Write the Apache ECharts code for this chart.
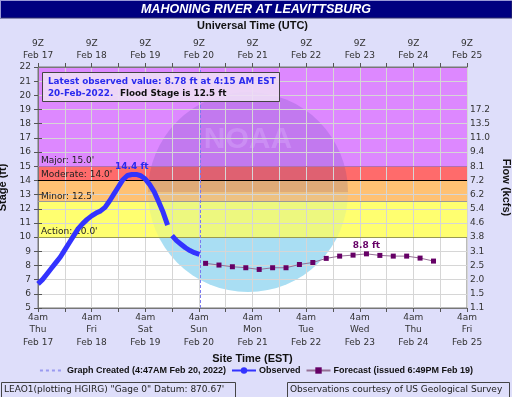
<!DOCTYPE html>
<html>
<head>
<meta charset="utf-8">
<script src="https://cdn.jsdelivr.net/npm/echarts@6/dist/echarts.min.js"></script>
<style>
  html, body { margin: 0; padding: 0; background: #dedefa; }
  #chart { width: 512px; height: 397px; }
</style>
</head>
<body>
<div id="chart"></div>
<script>
// hours counted from Thu Feb 17 2022, 4am EST (= 9Z)
var dayNames = ['Thu', 'Fri', 'Sat', 'Sun', 'Mon', 'Tue', 'Wed', 'Thu', 'Fri'];
var dateLabels = ['Feb 17', 'Feb 18', 'Feb 19', 'Feb 20', 'Feb 21', 'Feb 22', 'Feb 23', 'Feb 24', 'Feb 25'];

var flowStages = [5, 6, 7, 8, 9, 10, 11, 12, 13, 14, 15, 16, 17, 18, 19];
var flowLabels = ['1.1', '1.5', '2.0', '2.5', '3.1', '3.8', '4.6', '5.4', '6.2', '7.2', '8.1', '9.4', '11.0', '13.5', '17.2'];

var floodNames = ['Action', 'Minor', 'Moderate', 'Major'];
var floodStages = [10, 12.5, 14, 15];

var obsHours = [0, 2, 4, 6, 8, 10, 12, 14, 16, 18, 20, 22, 24, 26, 28, 30, 32, 34, 36, 38, 40, 42, 44, 46, 48, 50, 52, 54, 56, 58, 59, 60, 62, 64, 66, 68, 70, 72.25];
var obsStage = [6.7, 7.0, 7.4, 7.8, 8.2, 8.6, 9.1, 9.6, 10.1, 10.6, 10.95, 11.25, 11.5, 11.7, 11.85, 12.1, 12.55, 13.05, 13.55, 14.05, 14.35, 14.42, 14.42, 14.33, 14.1, 13.7, 13.2, 12.5, 11.75, 10.85, null, 10.1, 9.75, 9.5, 9.25, 9.05, 8.9, 8.78];

var fcstHours = [75, 81, 87, 93, 99, 105, 111, 117, 123, 129, 135, 141, 147, 153, 159, 165, 171, 177];
var fcstStage = [8.15, 8.03, 7.91, 7.84, 7.72, 7.84, 7.84, 8.07, 8.21, 8.5, 8.66, 8.73, 8.82, 8.71, 8.66, 8.66, 8.52, 8.31];

var graphCreatedHour = 72.78;

var obsData = [];
for (var i in obsHours) {
  obsData.push([obsHours[i], obsStage[i] === null ? '-' : obsStage[i]]);
}
var fcstData = [];
for (var j in fcstHours) {
  fcstData.push([fcstHours[j], fcstStage[j]]);
}

var chart = echarts.init(document.getElementById('chart'));

var tickFont = { fontFamily: 'DejaVu Sans', fontSize: 9, color: '#333' };
var nameFont = { fontFamily: 'Liberation Sans', fontWeight: 'bold', fontSize: 11, color: '#111' };

var option = {
  backgroundColor: '#dedefa',
  animation: false,
  grid: {
    left: 38, right: 45, top: 67, bottom: 89,
    outerBoundsMode: 'none', containLabel: false,
    show: true, backgroundColor: '#fff', borderColor: '#777', borderWidth: 1
  },
  legend: {
    top: 366, left: 'center', padding: 0,
    itemWidth: 24, itemHeight: 8, itemGap: 5,
    data: [
      { name: 'Graph Created (4:47AM Feb 20, 2022)', itemStyle: { opacity: 0 } },
      'Observed',
      'Forecast (issued 6:49PM Feb 19)'
    ],
    textStyle: { fontFamily: 'Liberation Sans', fontWeight: 'bold', fontSize: 9, color: '#111', padding: [0, 0, 0, -2] }
  },
  xAxis: [{
    type: 'value', min: 0, max: 192, interval: 12, position: 'bottom', z: 4,
    name: 'Site Time (EST)', nameLocation: 'middle', nameGap: 44, nameTextStyle: nameFont,
    axisLine: { lineStyle: { color: '#777' } },
    axisTick: { length: 4, lineStyle: { color: '#555' } },
    axisLabel: Object.assign({}, tickFont, {
      lineHeight: 12.5, margin: 3, showMinLabel: true, showMaxLabel: true,
      formatter: function(v) {
        if (v % 24 !== 0) return '';
        var d = v / 24;
        return '4am\n' + dayNames[d] + '\n' + dateLabels[d];
      }
    }),
    splitLine: { show: true, lineStyle: { color: '#d6d6d6' } }
  }, {
    type: 'value', min: 0, max: 192, interval: 12, position: 'top', z: 4,
    name: 'Universal Time (UTC)', nameLocation: 'middle', nameGap: 36, nameTextStyle: nameFont,
    axisLine: { lineStyle: { color: '#777' } },
    axisTick: { length: 4, lineStyle: { color: '#555' } },
    axisLabel: Object.assign({}, tickFont, {
      lineHeight: 12, margin: 5, showMinLabel: true, showMaxLabel: true,
      formatter: function(v) {
        if (v % 24 !== 0) return '';
        return '9Z\n' + dateLabels[v / 24];
      }
    }),
    splitLine: { show: false }
  }],
  yAxis: [{
    type: 'value', min: 5, max: 22, interval: 1, z: 4,
    name: 'Stage (ft)', nameLocation: 'middle', nameGap: 27, nameRotate: 90, nameTextStyle: nameFont,
    axisLine: { show: true, lineStyle: { color: '#777' } },
    axisTick: { show: true, length: 4, lineStyle: { color: '#555' } },
    axisLabel: Object.assign({}, tickFont, { margin: 7 }),
    splitLine: { show: true, lineStyle: { color: '#d6d6d6' } }
  }, {
    type: 'value', min: 5, max: 22, interval: 1, position: 'right', z: 4,
    name: 'Flow (kcfs)', nameLocation: 'middle', nameGap: 30, nameRotate: -90, nameTextStyle: nameFont,
    axisLine: { show: true, lineStyle: { color: '#777' } },
    axisTick: { show: true, length: 4, customValues: flowStages, lineStyle: { color: '#555' } },
    axisLabel: Object.assign({}, tickFont, {
      margin: 3, customValues: flowStages,
      formatter: function(v) {
        var k = flowStages.indexOf(v);
        return k < 0 ? '' : flowLabels[k];
      }
    }),
    splitLine: { show: false }
  }],
  graphic: [
    // title bar
    { type: 'rect', z: 10, shape: { x: 0, y: 0, width: 512, height: 18 },
      style: { fill: '#000080', stroke: '#30306a', lineWidth: 1 } },
    { type: 'line', z: 11, shape: { x1: 0, y1: 0.5, x2: 512, y2: 0.5 }, style: { stroke: '#9a9ad8' } },
    { type: 'line', z: 11, shape: { x1: 0.5, y1: 0, x2: 0.5, y2: 18 }, style: { stroke: '#9a9ad8' } },
    { type: 'text', z: 12, style: { text: 'MAHONING RIVER AT LEAVITTSBURG', x: 256, y: 9.5,
      textAlign: 'center', textVerticalAlign: 'middle', fill: '#fff',
      font: 'italic bold 12.5px "Liberation Sans"' } },
    // faint NOAA watermark
    { type: 'sector', z: 1, silent: true,
      shape: { cx: 248, cy: 192, r: 100, startAngle: 0, endAngle: Math.PI },
      style: { fill: '#b2e2f4' } },
    { type: 'sector', z: 3, silent: true,
      shape: { cx: 248, cy: 192, r: 100, startAngle: 0, endAngle: Math.PI },
      style: { fill: 'rgba(110,200,240,0.12)' } },
    { type: 'sector', z: 3, silent: true,
      shape: { cx: 248, cy: 192, r: 100, startAngle: Math.PI, endAngle: Math.PI * 2 },
      style: { fill: 'rgba(40,40,150,0.15)' } },
    { type: 'text', z: 3, silent: true,
      style: { text: 'NOAA', x: 248, y: 140, textAlign: 'center', textVerticalAlign: 'middle',
        fill: 'rgba(225,190,255,0.3)', font: 'bold 30px "Liberation Sans"' } },
    // latest observed box
    { type: 'rect', z: 8, shape: { x: 42.5, y: 72.5, width: 237, height: 29 },
      style: { fill: 'rgba(238,222,246,0.9)', stroke: '#444', lineWidth: 1 } },
    { type: 'text', z: 9, style: {
      x: 48, y: 76,
      text: '{b|Latest observed value: 8.78 ft at 4:15 AM EST}\n{b|20-Feb-2022.}  {k|Flood Stage is 12.5 ft}',
      rich: {
        b: { fill: '#2a2aee', font: 'bold 8.8px "DejaVu Sans"', lineHeight: 12 },
        k: { fill: '#111', font: 'bold 8.8px "DejaVu Sans"', lineHeight: 12 }
      } } },
    // footer boxes
    { type: 'rect', z: 8, shape: { x: 1.5, y: 382.5, width: 234, height: 16 },
      style: { fill: 'none', stroke: '#444', lineWidth: 1 } },
    { type: 'text', z: 9, style: { x: 4, y: 390, textVerticalAlign: 'middle',
      text: 'LEAO1(plotting HGIRG) "Gage 0" Datum: 870.67\'', fill: '#222', font: '9px "DejaVu Sans"' } },
    { type: 'rect', z: 8, shape: { x: 287.5, y: 382.5, width: 222, height: 16 },
      style: { fill: 'none', stroke: '#444', lineWidth: 1 } },
    { type: 'text', z: 9, style: { x: 290, y: 390, textVerticalAlign: 'middle',
      text: 'Observations courtesy of US Geological Survey', fill: '#222', font: '9px "DejaVu Sans"' } }
  ],
  series: [{
    name: 'bands', type: 'line', data: [], z: 2, silent: true,
    markArea: {
      silent: true,
      data: [
        [{ yAxis: floodStages[0], itemStyle: { color: '#ffff70' } }, { yAxis: floodStages[1] }],
        [{ yAxis: floodStages[1], itemStyle: { color: '#ffc173' } }, { yAxis: floodStages[2] }],
        [{ yAxis: floodStages[2], itemStyle: { color: '#ff6b6b' } }, { yAxis: floodStages[3] }],
        [{ yAxis: floodStages[3], itemStyle: { color: '#dd88ff' } }, { yAxis: 22 }]
      ]
    },
    markLine: {
      silent: true, symbol: 'none',
      label: { show: true, position: 'insideStartTop', distance: [3, 1],
        fontFamily: 'DejaVu Sans', fontSize: 9, color: '#222',
        formatter: function(p) {
          var k = floodStages.indexOf(p.value);
          return floodNames[k] + ': ' + p.value.toFixed(1) + "'";
        } },
      data: [
        { yAxis: floodStages[0], lineStyle: { color: '#9a9a50', width: 1, type: 'solid' } },
        { yAxis: floodStages[1], lineStyle: { color: '#999', width: 1, type: 'solid' } },
        { yAxis: floodStages[2], lineStyle: { color: '#000', width: 1, type: 'solid' } },
        { yAxis: floodStages[3], lineStyle: { color: '#b070b0', width: 1, type: 'solid' } }
      ]
    }
  }, {
    name: 'Graph Created (4:47AM Feb 20, 2022)', type: 'line', data: [], z: 5,
    symbol: 'none', color: '#9a9af0',
    lineStyle: { color: '#9a9af0', type: [3, 3], width: 1 },
    markLine: {
      silent: true, symbol: 'none', label: { show: false },
      lineStyle: { color: '#7a7af0', type: [3, 2], width: 1 },
      data: [{ xAxis: graphCreatedHour }]
    }
  }, {
    name: 'Observed', type: 'line', data: obsData, z: 6,
    symbol: 'circle', symbolSize: 6, showSymbol: false, color: '#3333ff',
    lineStyle: { color: '#3333ff', width: 5 },
    markPoint: {
      symbol: 'circle', symbolSize: 0,
      label: { show: true, position: 'top', distance: 3, color: '#2a2aee',
        fontFamily: 'DejaVu Sans', fontWeight: 'bold', fontSize: 9,
        formatter: function(p) { return p.value.toFixed(1) + ' ft'; } },
      data: [{ type: 'max', valueDim: 'y' }]
    }
  }, {
    name: 'Forecast (issued 6:49PM Feb 19)', type: 'line', data: fcstData, z: 6,
    symbol: 'rect', symbolSize: 5, color: '#660066',
    itemStyle: { color: '#660066' },
    lineStyle: { color: '#957095', width: 1 },
    markPoint: {
      symbol: 'circle', symbolSize: 0,
      label: { show: true, position: 'top', distance: 4, color: '#660066',
        fontFamily: 'DejaVu Sans', fontWeight: 'bold', fontSize: 9,
        formatter: function(p) { return p.value.toFixed(1) + ' ft'; } },
      data: [{ type: 'max', valueDim: 'y' }]
    }
  }]
};

chart.setOption(option);
</script>
</body>
</html>
